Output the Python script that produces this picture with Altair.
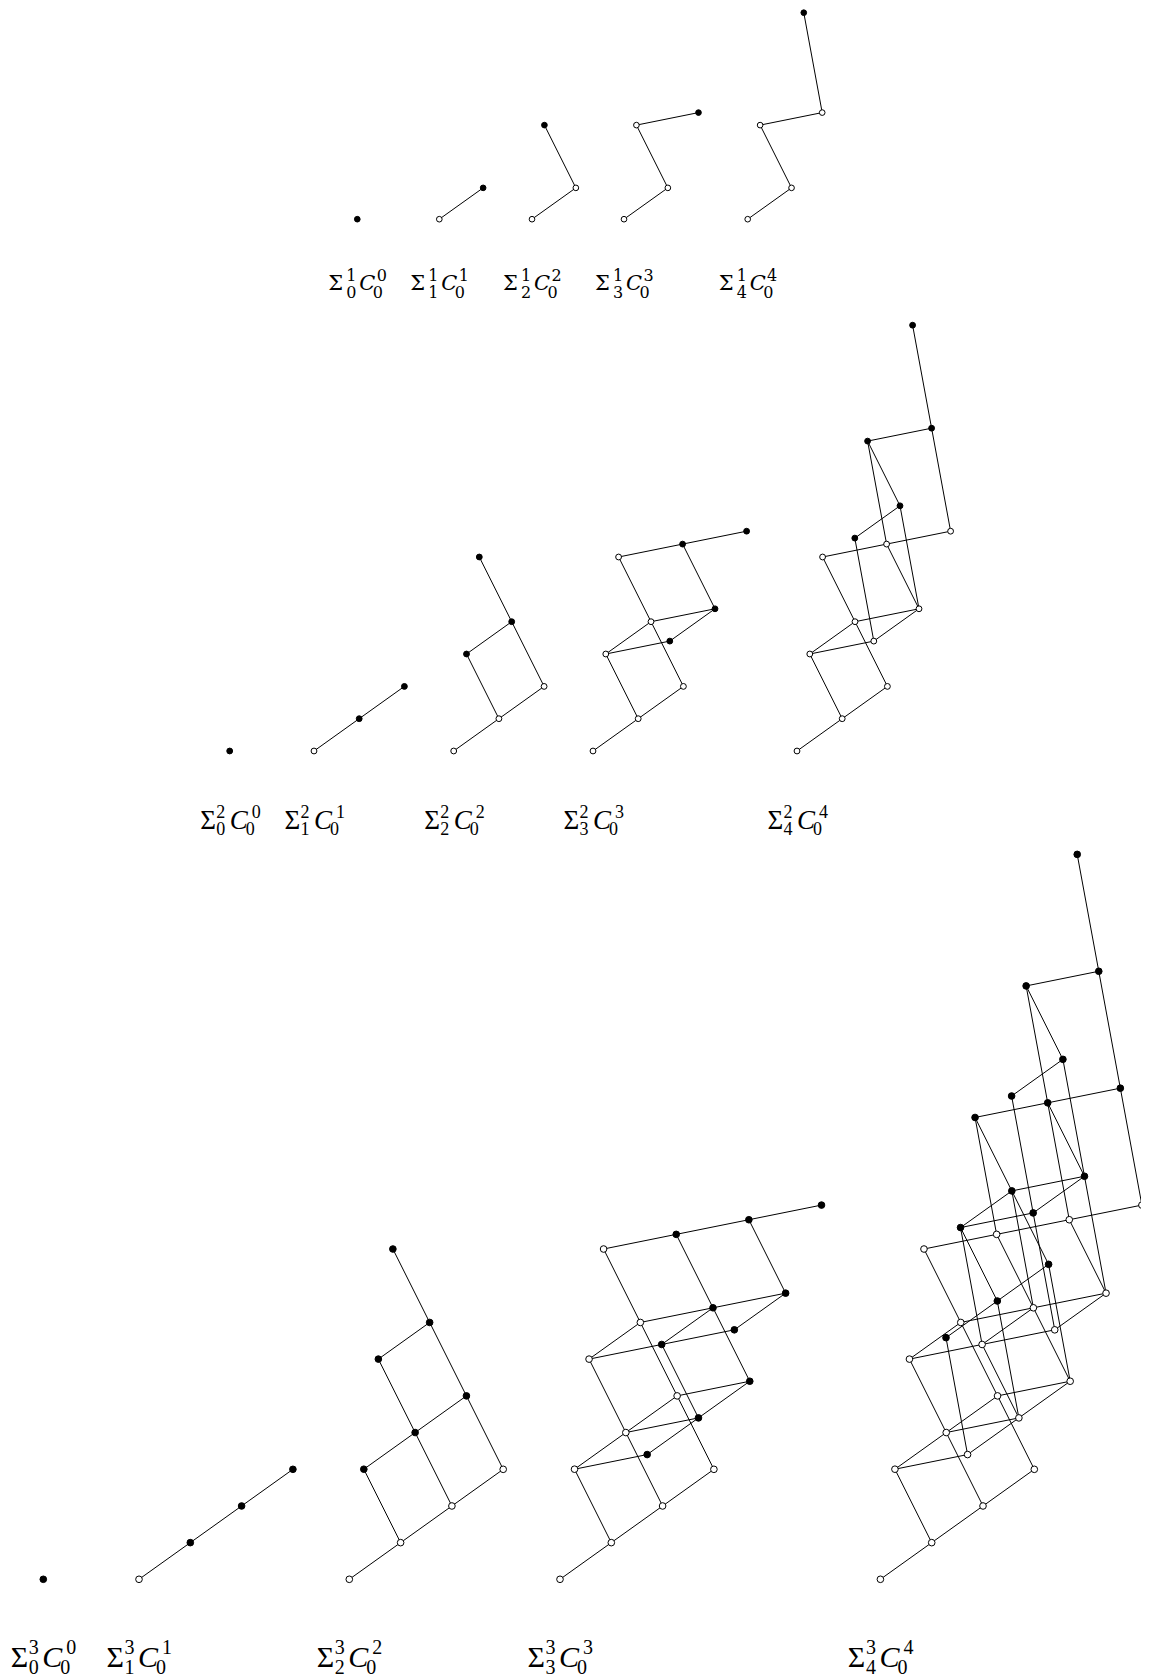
import altair as alt
import pandas as pd

# ---------------- data ----------------
# Lattice elements (non-increasing sequences) of each diagram Σ^k_n C^n_0
SIGMA1_NODES = [
    [""],
    ["0", "1"],
    ["00", "10", "11"],
    ["000", "100", "110", "111"],
    ["0000", "1000", "1100", "1110", "1111"],
]
SIGMA2_NODES = [
    [""],
    ["0", "1", "2"],
    ["00", "10", "20", "11", "21", "22"],
    ["000", "100", "200", "110", "210", "220", "111", "211", "221", "222"],
    ["0000", "1000", "2000", "1100", "2100", "2200", "1110", "2110", "2210",
     "2220", "1111", "2111", "2211", "2221", "2222"],
]
SIGMA3_NODES = [
    [""],
    ["0", "1", "2", "3"],
    ["00", "10", "20", "30", "11", "21", "31", "22", "32", "33"],
    ["000", "100", "200", "300", "110", "210", "310", "220", "320", "330",
     "111", "211", "311", "221", "321", "331", "222", "322", "332", "333"],
    ["0000", "1000", "2000", "3000", "1100", "2100", "3100", "2200", "3200",
     "3300", "1110", "2110", "3110", "2210", "3210", "3310", "2220", "3220",
     "3320", "3330", "1111", "2111", "3111", "2211", "3211", "3311", "2221",
     "3221", "3321", "3331", "2222", "3222", "3322", "3332", "3333"],
]
ROW_NODES = [SIGMA1_NODES, SIGMA2_NODES, SIGMA3_NODES]
ROW_K = ["1", "2", "3"]
DIAG_N = ["0", "1", "2", "3", "4"]

# layout
ANCHOR_X = [[357.3, 439.3, 532.0, 624.0, 747.7],
            [229.7, 314.0, 453.7, 593.0, 797.0],
            [43.3, 139.0, 349.3, 560.0, 880.4]]
ANCHOR_Y = [219.2, 751.0, 1579.3]
ROW_SCALE = [0.97, 1.0, 1.135]
BASIS = [(45.2, -32.3), (-32.4, -64.7), (64.0, -12.9), (-19.0, -103.0)]
POINT_SIZE = [32, 34, 44]

# label style per row: font, big size, small size, baseline,
# offsets: sigma x, sup/sub x, C x, C-sup x, C-sub x, sup dy, sub dy
LABEL_STYLE = [
    dict(font="DejaVu Serif", big=21, small=16, base=290.0,
         sx=-29, kx=-11, cx=2, csx=19.4, cbx=15.5, up=-9, dn=7.5),
    dict(font="Liberation Serif", big=27, small=18, base=829.0,
         sx=-29.5, kx=-13.5, cx=0, csx=22, cbx=16, up=-11, dn=6),
    dict(font="Liberation Serif", big=30, small=20, base=1667.0,
         sx=-32.6, kx=-14.5, cx=-1, csx=23, cbx=17, up=-13, dn=6.5),
]

# ---------------- build tables ----------------
pts, edges, texts = [], [], []


def pos(r, d, code):
    s = ROW_SCALE[r]
    x = ANCHOR_X[r][d]
    y = ANCHOR_Y[r]
    for i, ch in enumerate(code):
        c = int(ch)
        x += c * BASIS[i][0] * s
        y += c * BASIS[i][1] * s
    return x, y


for r, row in enumerate(ROW_NODES):
    st = LABEL_STYLE[r]
    for d, nodes in enumerate(row):
        nodeset = set(nodes)
        for u in nodes:
            x, y = pos(r, d, u)
            fill = "black" if (u == "" or u[-1] != "0") else "white"
            pts.append({"x": x, "y": y, "fill": fill, "sz": POINT_SIZE[r]})
            for i in range(len(u)):
                v = u[:i] + str(int(u[i]) + 1) + u[i + 1:]
                if v in nodeset:
                    x2, y2 = pos(r, d, v)
                    edges.append({"x": x, "y": y, "x2": x2, "y2": y2})
        # label Σ^k_n C^n_0
        c = ANCHOR_X[r][d]
        b = st["base"]
        f = st["font"]
        texts.append({"x": c + st["sx"], "y": b, "t": "Σ", "fs": st["big"], "f": f, "it": "normal"})
        texts.append({"x": c + st["kx"], "y": b + st["up"], "t": ROW_K[r], "fs": st["small"], "f": f, "it": "normal"})
        texts.append({"x": c + st["kx"], "y": b + st["dn"], "t": DIAG_N[d], "fs": st["small"], "f": f, "it": "normal"})
        texts.append({"x": c + st["cx"], "y": b, "t": "C", "fs": st["big"], "f": f, "it": "italic"})
        texts.append({"x": c + st["csx"], "y": b + st["up"], "t": DIAG_N[d], "fs": st["small"], "f": f, "it": "normal"})
        texts.append({"x": c + st["cbx"], "y": b + st["dn"], "t": "0", "fs": st["small"], "f": f, "it": "normal"})

pts_df = pd.DataFrame(pts)
edges_df = pd.DataFrame(edges)
texts_df = pd.DataFrame(texts)

W, H = 1133, 1669
xs = alt.Scale(domain=[8, 8 + W], nice=False, zero=False)
ys = alt.Scale(domain=[8, 8 + H], nice=False, zero=False, reverse=True)


def X(f):
    return alt.X(f, type="quantitative", scale=xs, axis=None)


def Y(f):
    return alt.Y(f, type="quantitative", scale=ys, axis=None)


lines = alt.Chart(edges_df).mark_rule(color="black", strokeWidth=1).encode(
    x=X("x"), y=Y("y"), x2="x2", y2="y2"
)
points = alt.Chart(pts_df).mark_point(
    shape="circle", filled=True, stroke="black", strokeWidth=1, opacity=1
).encode(
    x=X("x"), y=Y("y"),
    fill=alt.Fill("fill:N", scale=None),
    size=alt.Size("sz:Q", scale=None),
)

text_layers = []
for font in ["DejaVu Serif", "Liberation Serif"]:
    for style in ["normal", "italic"]:
        sub = texts_df[(texts_df["f"] == font) & (texts_df["it"] == style)]
        if len(sub) == 0:
            continue
        text_layers.append(
            alt.Chart(sub).mark_text(
                align="left", baseline="alphabetic", font=font,
                fontStyle=style, color="black"
            ).encode(x=X("x"), y=Y("y"), text="t:N",
                     size=alt.Size("fs:Q", scale=None))
        )

chart = alt.layer(lines, points, *text_layers).properties(
    width=W, height=H, padding=0, autosize=alt.AutoSizeParams(type="none")
).configure_view(strokeWidth=0, strokeOpacity=0)

chart.save("out.html", embed_options={"renderer": "svg", "actions": False})
